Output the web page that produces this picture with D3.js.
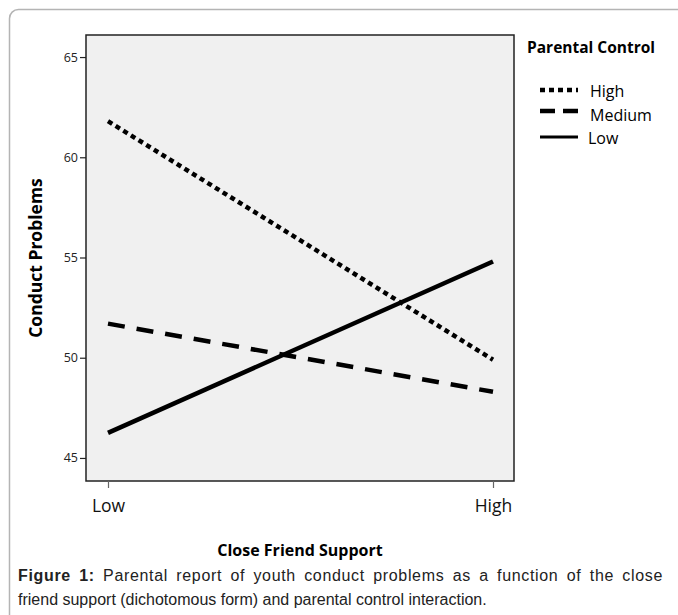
<!DOCTYPE html>
<html>
<head>
<meta charset="utf-8">
<script src="https://cdn.jsdelivr.net/npm/d3@7"></script>
<style>
  body { margin: 0; background: #fff; }
  svg { display: block; }
</style>
</head>
<body>
<svg></svg>
<script>
// chart values
var categories = ["Low", "High"]
var seriesNames = ["High", "Medium", "Low"]
var highValues = [61.8, 49.9]
var mediumValues = [51.7, 48.3]
var lowValues = [46.25, 54.8]
var yTicks = [45, 50, 55, 60, 65]

var series = [
    { name: seriesNames[0], values: highValues, dash: "5,4" },
    { name: seriesNames[1], values: mediumValues, dash: "17,12" },
    { name: seriesNames[2], values: lowValues, dash: null },
]

var svgWidth = 678,
    svgHeight = 615

var font = "'Open Sans', Lato, sans-serif"

var svg = d3.select("svg")
    .attr("width", svgWidth)
    .attr("height", svgHeight)

// outer figure frame (rounded, runs off the right/bottom)
svg.append("rect")
    .attr("x", 9.5).attr("y", 9.5)
    .attr("width", 700).attr("height", 640)
    .attr("rx", 9).attr("ry", 9)
    .attr("fill", "none")
    .attr("stroke", "#b4b4b4")
    .attr("stroke-width", 1.5)

var plot = { left: 86, top: 35, right: 514, bottom: 481 }

var x = d3.scalePoint()
    .domain(categories)
    .range([108, 493])

var y = d3.scaleLinear()
    .domain([43.85, 66.1])
    .range([plot.bottom, plot.top])

svg.append("rect")
    .attr("x", plot.left).attr("y", plot.top)
    .attr("width", plot.right - plot.left)
    .attr("height", plot.bottom - plot.top)
    .attr("fill", "#f0f0f0")
    .attr("stroke", "#222")
    .attr("stroke-width", 1.5)

// y axis
var yAxis = svg.append("g")
    .attr("transform", "translate(" + plot.left + ",0)")
    .call(d3.axisLeft(y).tickValues(yTicks).tickSize(6).tickPadding(2))
yAxis.select(".domain").remove()
yAxis.selectAll("line").attr("stroke", "#222").attr("stroke-width", 1.2)
yAxis.selectAll("text")
    .attr("font-family", font)
    .attr("font-size", 12.5)
    .attr("fill", "#222")

// x axis
var xAxis = svg.append("g")
    .attr("transform", "translate(0," + plot.bottom + ")")
    .call(d3.axisBottom(x).tickSize(7).tickPadding(12))
xAxis.select(".domain").remove()
xAxis.selectAll("line").attr("stroke", "#666").attr("stroke-width", 1.2)
xAxis.selectAll("text")
    .attr("font-family", font)
    .attr("font-size", 17.5)
    .attr("fill", "#111")

// lines
var line = d3.line()
    .x((d, i) => x(categories[i]))
    .y((d) => y(d))

svg.append("g").selectAll("path")
    .data(series)
    .enter()
    .append("path")
    .attr("d", (d) => line(d.values))
    .attr("fill", "none")
    .attr("stroke", "#000")
    .attr("stroke-width", 4.5)
    .attr("stroke-dasharray", (d) => d.dash)

// axis titles
svg.append("text")
    .attr("transform", "translate(42," + (plot.top + plot.bottom) / 2 + ") rotate(-90)")
    .attr("text-anchor", "middle")
    .attr("font-family", font)
    .attr("font-weight", "bold")
    .attr("font-size", 17.5)
    .text("Conduct Problems")

svg.append("text")
    .attr("x", 300).attr("y", 556)
    .attr("text-anchor", "middle")
    .attr("font-family", font)
    .attr("font-weight", "bold")
    .attr("font-size", 16)
    .text("Close Friend Support")

// legend
svg.append("text")
    .attr("x", 527).attr("y", 53)
    .attr("font-family", font)
    .attr("font-weight", "bold")
    .attr("font-size", 15.5)
    .text("Parental Control")

var legY = [90, 111, 137]
var legTextX = [590, 590, 588]
var item = svg.append("g").selectAll("g")
    .data(series)
    .enter()
    .append("g")
    .attr("transform", (d, i) => "translate(0," + legY[i] + ")")

item.append("line")
    .attr("x1", 540).attr("x2", 578)
    .attr("stroke", "#000")
    .attr("stroke-width", (d, i) => i == 2 ? 3 : 4.5)
    .attr("stroke-dasharray", (d, i) => i == 1 ? "15,8" : d.dash)

item.append("text")
    .attr("x", (d, i) => legTextX[i])
    .attr("y", (d, i) => i == 1 ? 4 : 1)
    .attr("dy", "0.35em")
    .attr("font-family", font)
    .attr("font-size", 16)
    .text((d) => d.name)

// caption, first line justified to the frame width
var caption = svg.append("g")
    .attr("font-family", "'Liberation Sans', Arial, sans-serif")
    .attr("font-size", 16)
    .attr("fill", "#222")
var c1 = caption.append("text").attr("x", 18).attr("y", 581)
c1.append("tspan").attr("font-weight", "bold").text("Figure 1:")
c1.append("tspan").text(" Parental report of youth conduct problems as a function of the close")
var natural = c1.node().getComputedTextLength()
var extra = 663 - 18 - natural
c1.attr("word-spacing", extra * 0.45 / 13)
    .attr("letter-spacing", extra * 0.55 / 78)
caption.append("text").attr("x", 18).attr("y", 605)
    .text("friend support (dichotomous form) and parental control interaction.")
</script>
</body>
</html>
